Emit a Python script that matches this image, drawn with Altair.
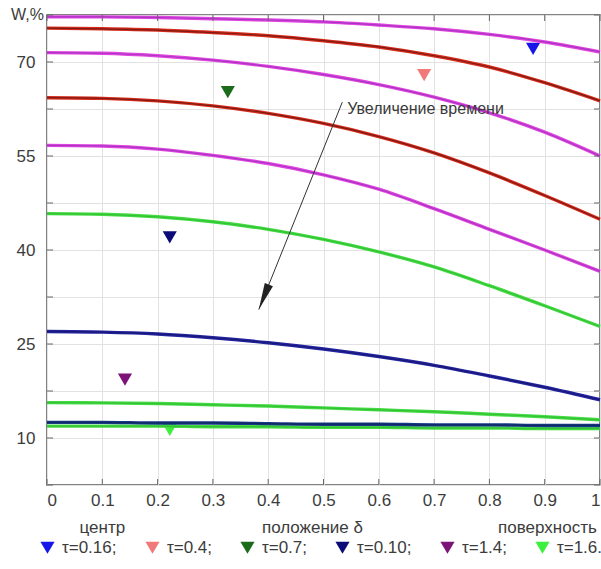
import math

import altair as alt
import pandas as pd

# plot area size in pixels
W, H = 553, 470

# radial position (0 = centre, 1 = surface)
delta = [0, 0.1, 0.2, 0.3, 0.4, 0.5, 0.6, 0.7, 0.8, 0.9, 1.0]

# moisture profiles W,% at successive moments of time
magenta_1 = [77.2, 77.2, 77.1, 76.9, 76.7, 76.4, 75.9, 75.3, 74.4, 73.2, 71.6]
red_1 = [75.4, 75.3, 75.1, 74.7, 74.2, 73.4, 72.4, 71.0, 69.2, 66.7, 63.8]
magenta_2 = [71.5, 71.4, 71.0, 70.3, 69.3, 68.0, 66.4, 64.4, 61.9, 58.8, 55.0]
red_2 = [64.3, 64.2, 63.8, 63.0, 61.8, 60.2, 58.1, 55.5, 52.3, 48.7, 44.9]
magenta_3 = [56.7, 56.6, 56.1, 55.1, 53.8, 52.0, 49.7, 46.6, 43.3, 40.0, 36.6]
green_1 = [45.8, 45.7, 45.3, 44.5, 43.3, 41.7, 39.7, 37.3, 34.3, 31.1, 27.8]
blue_1 = [27.0, 26.9, 26.6, 26.0, 25.2, 24.2, 23.0, 21.6, 19.9, 18.1, 16.1]
green_2 = [15.65, 15.6, 15.5, 15.3, 15.1, 14.8, 14.5, 14.2, 13.8, 13.4, 12.9]
blue_2 = [12.5, 12.5, 12.4, 12.4, 12.3, 12.2, 12.2, 12.1, 12.1, 12.0, 12.0]
green_3 = [11.9, 11.9, 11.9, 11.8, 11.8, 11.7, 11.7, 11.6, 11.6, 11.5, 11.5]

curves = [magenta_1, red_1, magenta_2, red_2, magenta_3,
          green_1, blue_1, green_2, green_3, blue_2]
# outer stroke colour and darker core colour of each curve
curve_colors = ["#e046e0", "#d82c1c", "#e046e0", "#d82c1c", "#e046e0",
                "#44dc44", "#24249e", "#44dc44", "#44dc44", "#163a86"]
core_colors = ["#9a2cb8", "#5e1410", "#9a2cb8", "#5e1410", "#9a2cb8",
               "#2fb82f", "#14146c", "#2fb82f", "#2fb82f", "#0c2258"]

# experimental points
tau_labels = ["τ=0.16;", "τ=0.4;", "τ=0.7;", "τ=0.10;", "τ=1.4;", "τ=1.6."]
tau_x = [0.879, 0.682, 0.327, 0.222, 0.141, 0.222]
tau_w = [72.1, 67.9, 65.2, 42.0, 19.3, 11.3]
tau_colors = ["#1616e8", "#f07a7a", "#1a6c1a", "#0c0c78", "#7c1478", "#3ef03e"]

# axis ticks
x_ticks = [round(i * 0.1, 1) for i in range(11)]
y_ticks = [2.5 + 7.5 * i for i in range(11)]
y_labelled = [10, 25, 40, 55, 70]

# arrow "increase of time"
arrow_start = (0.534, 63.6)
arrow_end = (0.383, 30.5)

FONT = "Liberation Sans"
TXT = "#3c3c3c"

rows = []
for k, (vals, col, core) in enumerate(zip(curves, curve_colors, core_colors)):
    for d, w in zip(delta, vals):
        rows.append({"curve": k, "delta": d, "w": w, "col": col, "core": core})
lines_df = pd.DataFrame(rows)

pts_df = pd.DataFrame({"tau": tau_labels, "delta": tau_x, "w": tau_w})

x_scale = alt.Scale(domain=[0, 1], nice=False, zero=False)
y_scale = alt.Scale(domain=[2.5, 77.5], nice=False, zero=False)

y_label_test = " || ".join("datum.value == %g" % v for v in y_labelled)

x_axis = alt.Axis(values=x_ticks, format=".1~f", grid=True, ticks=False,
                  domain=False, labelPadding=7, title=None)
y_axis = alt.Axis(values=y_ticks, grid=True, ticks=False, domain=False,
                  labelPadding=12, title=None,
                  labelExpr="(%s) ? datum.label : ''" % y_label_test)

base_x = alt.X("delta:Q", scale=x_scale, axis=x_axis)
base_y = alt.Y("w:Q", scale=y_scale, axis=y_axis)

points = alt.Chart(pts_df).mark_point(
    shape="triangle-down", filled=True, size=200, opacity=1
).encode(
    x=base_x,
    y=base_y,
    fill=alt.Fill(
        "tau:N",
        scale=alt.Scale(domain=tau_labels, range=tau_colors),
        sort=tau_labels,
        legend=alt.Legend(
            title=None, orient="none", direction="horizontal", columns=6,
            legendX=-8, legendY=H + 54, symbolType="triangle-down",
            symbolSize=200, symbolStrokeWidth=0, labelFontSize=17,
            labelFont=FONT, labelColor=TXT, labelOffset=6, columnPadding=27,
            padding=0,
        ),
    ),
)

lines_outer = alt.Chart(lines_df).mark_line(
    strokeWidth=3.4, interpolate="monotone"
).encode(
    x="delta:Q",
    y="w:Q",
    detail="curve:N",
    order="delta:Q",
    stroke=alt.Stroke("col:N", scale=None),
)
lines_core = alt.Chart(lines_df).mark_line(
    strokeWidth=1.2, interpolate="monotone", opacity=0.75
).encode(
    x="delta:Q",
    y="w:Q",
    detail="curve:N",
    order="delta:Q",
    stroke=alt.Stroke("core:N", scale=None),
)

# inward tick marks on all four sides of the frame
xt_df = pd.DataFrame({"delta": x_ticks})
yt_df = pd.DataFrame({"w": y_ticks})
tick_style = dict(color="#666666", strokeWidth=1)
ticks_bottom = alt.Chart(xt_df).mark_rule(**tick_style).encode(
    x="delta:Q", y=alt.value(H), y2=alt.value(H - 6))
ticks_top = alt.Chart(xt_df).mark_rule(**tick_style).encode(
    x="delta:Q", y=alt.value(0), y2=alt.value(6))
ticks_left = alt.Chart(yt_df).mark_rule(**tick_style).encode(
    y="w:Q", x=alt.value(0), x2=alt.value(6))
ticks_right = alt.Chart(yt_df).mark_rule(**tick_style).encode(
    y="w:Q", x=alt.value(W), x2=alt.value(W - 6))

# arrow showing the direction of increasing time
arrow_df = pd.DataFrame({
    "x0": [arrow_start[0]], "y0": [arrow_start[1]],
    "x1": [arrow_end[0]], "y1": [arrow_end[1]],
})
dx_px = (arrow_end[0] - arrow_start[0]) * W
dy_px = (arrow_start[1] - arrow_end[1]) * H / 75.0
head_angle = math.degrees(math.atan2(-dx_px, dy_px))

arrow_line = alt.Chart(arrow_df).mark_rule(color="#333333", strokeWidth=1).encode(
    x="x0:Q", y="y0:Q", x2="x1:Q", y2="y1:Q")
arrow_head = alt.Chart(arrow_df).mark_point(
    shape="M0,0L-0.36,-2.2L0.36,-2.2Z", filled=True, color="#222222",
    size=600, angle=head_angle, opacity=1,
).encode(x="x1:Q", y="y1:Q")

arrow_text = alt.Chart(pd.DataFrame({
    "delta": [0.543], "w": [62.5], "t": ["Увеличение времени"]
})).mark_text(align="left", baseline="middle", fontSize=16, font=FONT,
              color="#3a3a3a").encode(x="delta:Q", y="w:Q", text="t:N")

# y-axis caption at the top of the scale
w_label = alt.Chart(pd.DataFrame({"w": [77.5], "t": ["W,%"]})).mark_text(
    align="right", baseline="middle", fontSize=16, font=FONT, color=TXT
).encode(y="w:Q", x=alt.value(-3), text="t:N")

# captions under the x axis
x_caps = alt.Chart(pd.DataFrame({
    "delta": [0.1, 0.48, 0.905],
    "t": ["центр", "положение δ", "поверхность"],
})).mark_text(baseline="middle", fontSize=17, font=FONT, color=TXT).encode(
    x="delta:Q", y=alt.value(H + 43), text="t:N")

chart = alt.layer(
    points, lines_outer, lines_core, ticks_bottom, ticks_top, ticks_left,
    ticks_right, arrow_line, arrow_head, arrow_text, w_label, x_caps,
).properties(
    width=W, height=H,
    autosize=alt.AutoSizeParams(type="none"),
    padding={"left": 47, "top": 15, "right": 1, "bottom": 84},
    background="white",
).configure_view(
    stroke="#5a5a5a", strokeWidth=1.5,
).configure_axis(
    gridColor="#e2e2e2", gridWidth=1, labelFontSize=17, labelFont=FONT,
    labelColor=TXT,
)

chart.save("out.html", embed_options={"renderer": "svg", "actions": False})
